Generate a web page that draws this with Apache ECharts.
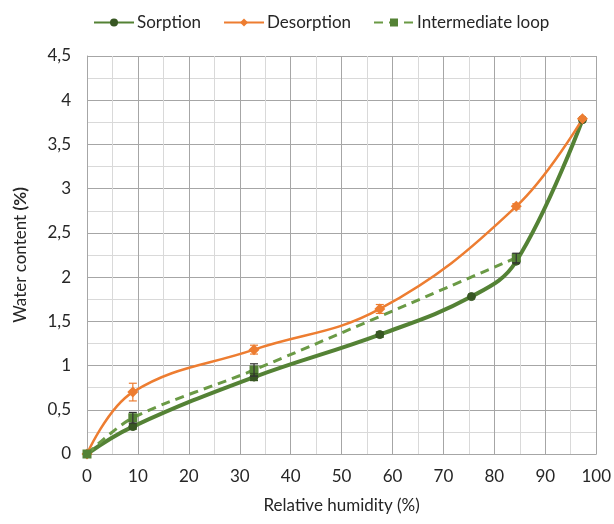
<!DOCTYPE html>
<html>
<head>
<meta charset="utf-8">
<script src="https://cdn.jsdelivr.net/npm/echarts@6/dist/echarts.min.js"></script>
<style>
html,body{margin:0;padding:0;background:#fff;}
#chart{width:614px;height:524px;}
</style>
</head>
<body>
<div id="chart"></div>
<script>
// data
const sorptionX = [0, 9, 32.8, 57.5, 75.5, 84.3, 97.3];
const sorptionY = [0, 0.31, 0.87, 1.35, 1.78, 2.18, 3.78];
const desorptionX = [0, 9, 32.8, 57.5, 84.3, 97.3];
const desorptionY = [0, 0.70, 1.18, 1.64, 2.80, 3.79];
const loopX = [0, 9, 32.8, 84.3];
const loopY = [0, 0.41, 0.95, 2.22];
// error bars: [x, low, high]
const sorptionErr = [[9, 0.28, 0.34], [32.8, 0.83, 0.91], [57.5, 1.32, 1.38]];
const desorptionErr = [[9, 0.60, 0.80], [32.8, 1.13, 1.23], [57.5, 1.59, 1.69], [84.3, 2.77, 2.83]];
const loopErr = [[9, 0.35, 0.47], [32.8, 0.88, 1.02], [84.3, 2.16, 2.27]];

const font = 'Lato, "Open Sans", sans-serif';
const zip = (xs, ys) => xs.map((x, i) => [x, ys[i]]);

function errSeries(name, data, color) {
    return {
        name: name,
        type: 'custom',
        data: data,
        z: 5,
        silent: true,
        renderItem: function (params, api) {
            const top = api.coord([api.value(0), api.value(2)]);
            const bot = api.coord([api.value(0), api.value(1)]);
            const w = 4;
            const style = { stroke: color, lineWidth: 1.2 };
            return {
                type: 'group',
                children: [
                    { type: 'line', shape: { x1: top[0], y1: top[1], x2: bot[0], y2: bot[1] }, style: style },
                    { type: 'line', shape: { x1: top[0] - w, y1: top[1], x2: top[0] + w, y2: top[1] }, style: style },
                    { type: 'line', shape: { x1: bot[0] - w, y1: bot[1], x2: bot[0] + w, y2: bot[1] }, style: style }
                ]
            };
        }
    };
}

const chart = echarts.init(document.getElementById('chart'));
const option = {
    backgroundColor: '#fff',
    animation: false,
    textStyle: { fontFamily: font },
    legend: {
        top: 9,
        left: 88,
        itemWidth: 40,
        itemHeight: 10,
        itemGap: 22,
        textStyle: { fontSize: 17, color: '#262626', fontFamily: font, padding: [0, 0, 0, -2] },
        data: ['Sorption', 'Desorption', 'Intermediate loop']
    },
    grid: { left: 87, right: 17, top: 56, bottom: 70 },
    xAxis: {
        type: 'value',
        min: 0, max: 100, interval: 10,
        name: 'Relative humidity (%)',
        nameLocation: 'middle',
        nameGap: 43,
        nameTextStyle: { fontSize: 17, color: '#262626', fontFamily: font },
        axisLine: { show: true, lineStyle: { color: '#a6a6a6' } },
        axisTick: { show: false },
        axisLabel: { fontSize: 17, color: '#262626', margin: 14 },
        splitLine: { show: true, lineStyle: { color: '#a6a6a6', width: 1 } },
        minorTick: { show: false, splitNumber: 2 },
        minorSplitLine: { show: true, lineStyle: { color: '#d9d9d9', width: 1 } }
    },
    yAxis: {
        type: 'value',
        min: 0, max: 4.5, interval: 0.5,
        name: '{n|Water content }{b|(%)}',
        nameLocation: 'middle',
        nameRotate: 90,
        nameGap: 58,
        nameTextStyle: {
            rich: {
                n: { fontSize: 17, color: '#262626', fontFamily: font },
                b: { fontSize: 17, color: '#262626', fontWeight: 'bold', fontFamily: font }
            }
        },
        axisLine: { show: true, lineStyle: { color: '#a6a6a6' } },
        axisTick: { show: false },
        axisLabel: {
            fontSize: 17, color: '#262626', margin: 16,
            formatter: v => String(v).replace('.', ',')
        },
        splitLine: { show: true, lineStyle: { color: '#a6a6a6', width: 1 } },
        minorTick: { show: false, splitNumber: 2 },
        minorSplitLine: { show: true, lineStyle: { color: '#d9d9d9', width: 1 } }
    },
    series: [
        {
            name: 'Sorption',
            type: 'line',
            smooth: 0.4,
            data: zip(sorptionX, sorptionY),
            symbol: 'circle',
            symbolSize: 8,
            z: 3,
            lineStyle: { color: '#548235', width: 4 },
            itemStyle: { color: '#385723', borderColor: '#385723' }
        },
        {
            name: 'Desorption',
            type: 'line',
            smooth: 0.4,
            data: zip(desorptionX, desorptionY),
            symbol: 'diamond',
            symbolSize: 11,
            z: 3,
            lineStyle: { color: '#ED7D31', width: 2.5 },
            itemStyle: { color: '#ED7D31' }
        },
        {
            name: 'Intermediate loop',
            type: 'line',
            smooth: 0.3,
            data: zip(loopX, loopY),
            symbol: 'rect',
            symbolSize: 9,
            z: 4,
            lineStyle: { color: '#6A9A45', width: 3, type: [9, 6] },
            itemStyle: { color: '#548235' }
        },
        errSeries('sErr', sorptionErr, '#385723'),
        errSeries('dErr', desorptionErr, '#ED7D31'),
        errSeries('lErr', loopErr, '#333333')
    ]
};
chart.setOption(option);
window.addEventListener('resize', () => chart.resize());
</script>
</body>
</html>
